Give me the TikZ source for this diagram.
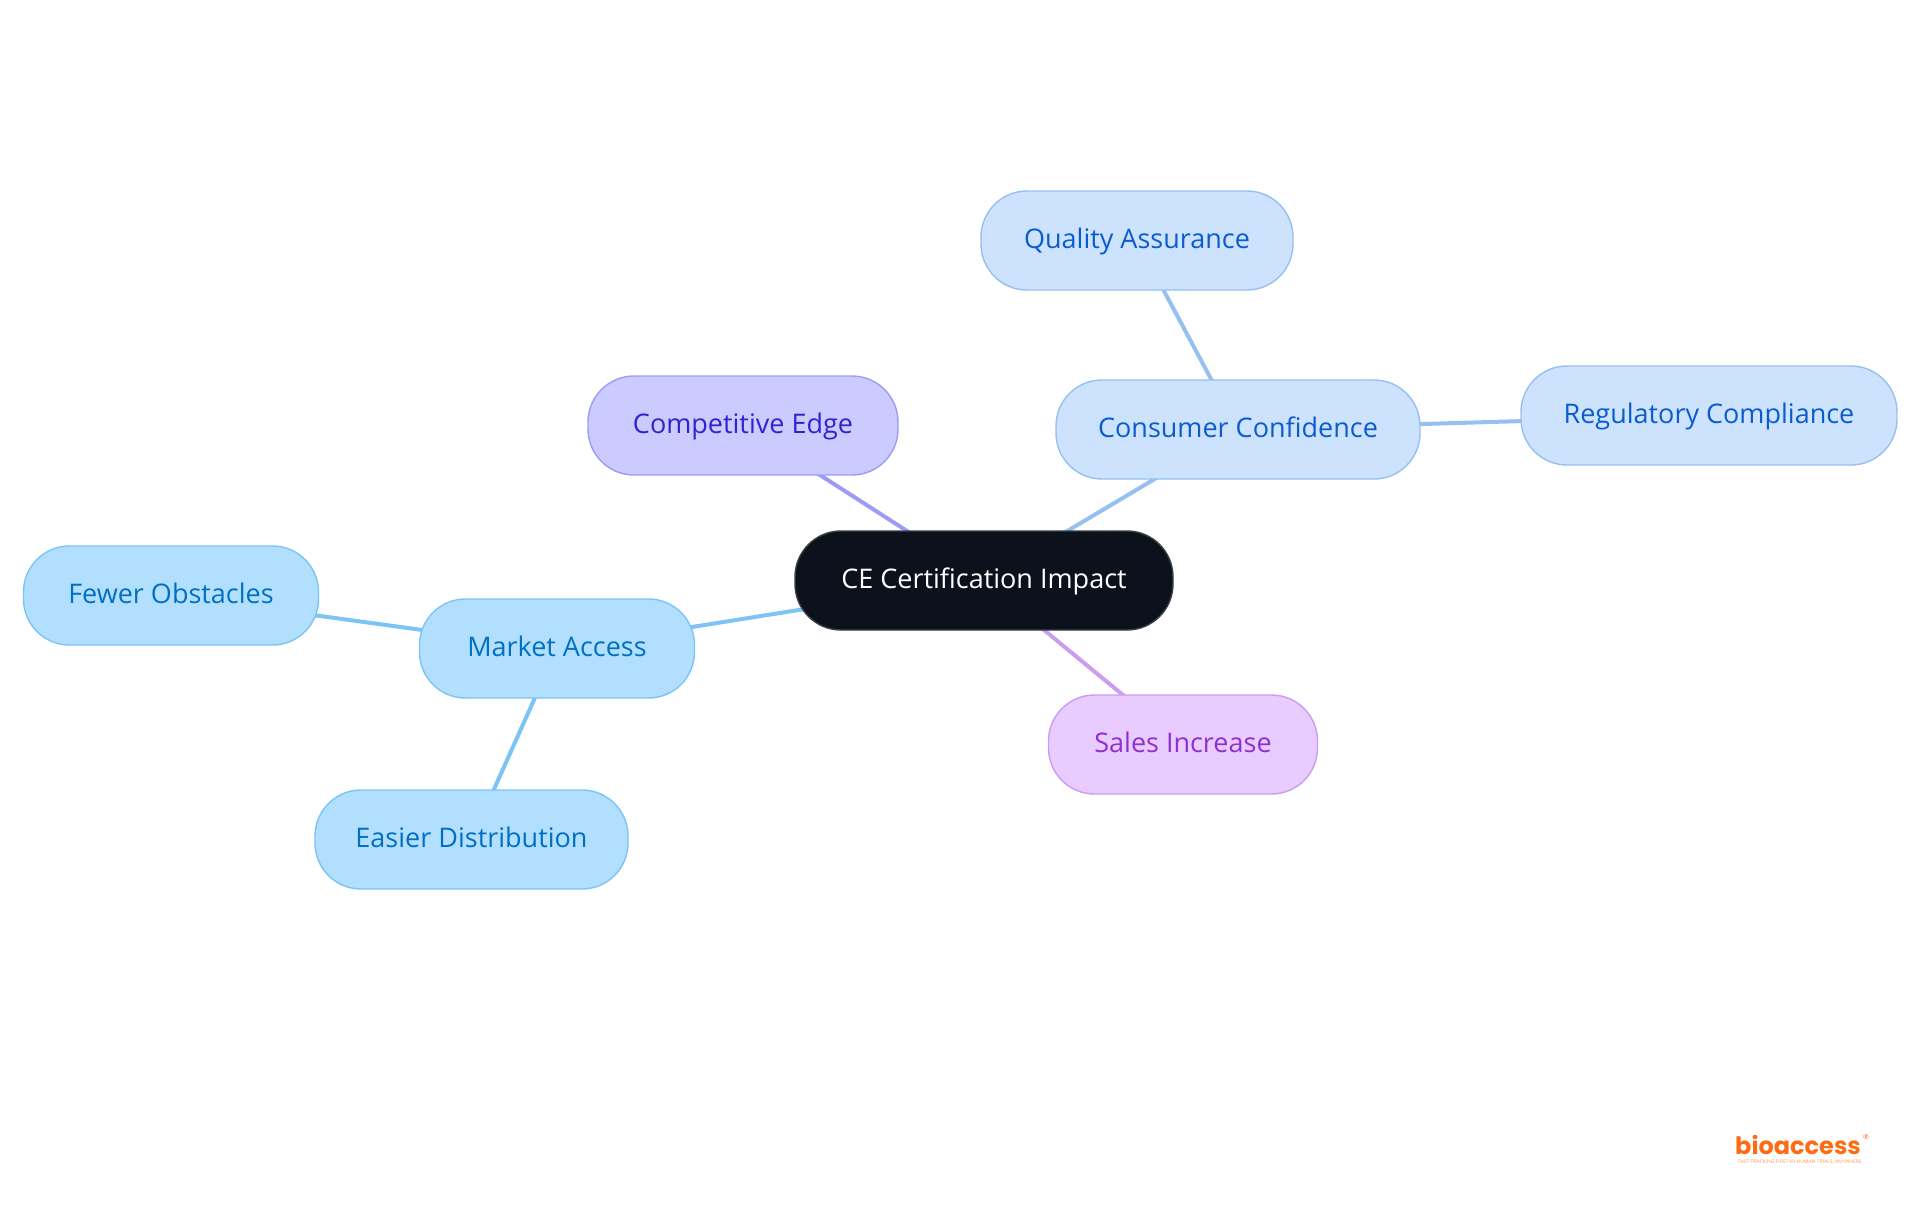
\documentclass[tikz,border=0pt]{standalone}
\usepackage{fontspec}
\setmainfont{Open Sans}
\newfontfamily\logofont{Poppins}
\usetikzlibrary{backgrounds}
\definecolor{cA}{HTML}{B3DFFF}\definecolor{sA}{HTML}{7CC4F5}\definecolor{tA}{HTML}{0070C4}
\definecolor{cB}{HTML}{CDE3FD}\definecolor{sB}{HTML}{95C0F0}\definecolor{tB}{HTML}{0B5CD0}
\definecolor{cC}{HTML}{CBCBFF}\definecolor{sC}{HTML}{9C9CF5}\definecolor{tC}{HTML}{3023D0}
\definecolor{cD}{HTML}{E8CBFF}\definecolor{sD}{HTML}{CB9CF0}\definecolor{tD}{HTML}{9030D0}
\definecolor{cR}{HTML}{0B121B}\definecolor{sR}{HTML}{3A3F46}\definecolor{logo}{HTML}{FF6A13}
\tikzset{
 x=1pt,y=-1pt,
 pill/.style={rounded corners=46pt,line width=1.4pt,inner sep=0pt,minimum height=99pt,
   font=\fontsize{27}{30}\selectfont,text height=20pt,text depth=5pt},
 pillA/.style={pill,fill=cA,draw=sA,text=tA},
 pillB/.style={pill,fill=cB,draw=sB,text=tB},
 pillC/.style={pill,fill=cC,draw=sC,text=tC},
 pillD/.style={pill,fill=cD,draw=sD,text=tD},
 pillR/.style={pill,fill=cR,draw=sR,text=white},
 link/.style={line width=4pt},
}
\begin{document}
\begin{tikzpicture}
\useasboundingbox (0,0) rectangle (1920,1215);
\node[pillR,minimum width=378pt] (root) at (984,580.5) {CE Certification Impact};
\node[pillA,minimum width=275pt] (market) at (557,648.5) {Market Access};
\node[pillA,minimum width=295pt] (fewer) at (171,595.5) {Fewer Obstacles};
\node[pillA,minimum width=313pt] (easier) at (471.5,839.5) {Easier Distribution};
\node[pillC,minimum width=310pt] (edge) at (743,425.5) {Competitive Edge};
\node[pillB,minimum width=364pt] (conf) at (1238,429.5) {Consumer Confidence};
\node[pillB,minimum width=312pt] (qual) at (1137,240.5) {Quality Assurance};
\node[pillB,minimum width=376pt] (reg) at (1709,415.5) {Regulatory Compliance};
\node[pillD,minimum width=269pt] (sales) at (1183,744.5) {Sales Increase};
\node[text=logo,font=\logofont\fontsize{24}{24}\selectfont\bfseries,inner sep=0pt,text height=18pt,text depth=0pt] (brand) at (1798,1145.5) {bioaccess};
\node[text=logo,font=\fontsize{7}{7}\selectfont,inner sep=0pt,text height=5pt,text depth=0pt] (mark) at (1866,1137) {®};
\node[text=logo!70,font=\fontsize{5}{5}\selectfont,inner sep=0pt,text height=3pt,text depth=0pt] (tag) at (1800,1162) {FAST-TRACKING FIRST-IN-HUMAN TRIALS, ANYWHERE};
\begin{scope}[on background layer]
\draw[link,sA] (root.center) -- (market.center);
\draw[link,sA] (market.center) -- (fewer.center);
\draw[link,sA] (market.center) -- (easier.center);
\draw[link,sC] (root.center) -- (edge.center);
\draw[link,sB] (root.center) -- (conf.center);
\draw[link,sB] (conf.center) -- (qual.center);
\draw[link,sB] (conf.center) -- (reg.center);
\draw[link,sD] (root.center) -- (sales.center);
\end{scope}
\end{tikzpicture}
\end{document}
